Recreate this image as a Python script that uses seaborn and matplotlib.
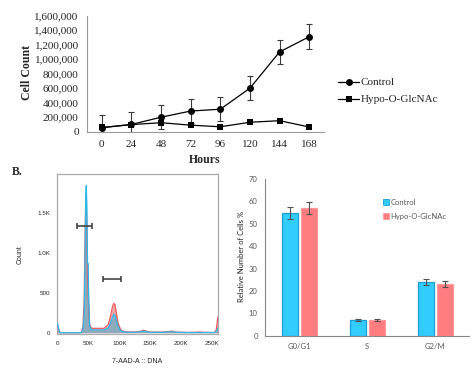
import numpy as np
import pandas as pd
import matplotlib
matplotlib.use("Agg")
import matplotlib.pyplot as plt
from matplotlib.lines import Line2D
from matplotlib.ticker import FixedLocator, MultipleLocator, FuncFormatter
import seaborn as sns

# ---------------- data ----------------
hours = ["0", "24", "48", "72", "96", "120", "144", "168"]
control_count = [55000, 100000, 200000, 285000, 310000, 600000, 1100000, 1310000]
control_err = [170000, 165000, 165000, 162000, 165000, 165000, 167000, 170000]
hypo_count = [58000, 98000, 124000, 90000, 68000, 130000, 152000, 65000]

hist_x = [0, 2, 4, 38, 41, 43, 44.5, 45.5, 46.5, 47.5, 48.5, 49.5, 50.5, 52,
          55, 65, 75, 82, 86, 89, 91, 93, 95, 98, 102, 108, 125, 134, 139, 144,
          150, 170, 180, 186, 192, 210, 225, 230, 236, 254, 257, 259, 260]
hist_control = [110, 40, 0, 0, 30, 200, 900, 1700, 1850, 1500, 870, 870, 400, 80,
                35, 35, 35, 60, 130, 200, 230, 220, 160, 80, 25, 8, 5, 12, 20, 12,
                5, 5, 10, 12, 5, 2, 2, 3, 2, 2, 10, 40, 60]
hist_hypo = [90, 30, 0, 0, 60, 400, 1200, 1630, 1500, 1100, 700, 500, 250, 100,
             55, 55, 55, 100, 220, 330, 370, 350, 260, 120, 40, 12, 8, 18, 30, 20,
             8, 8, 15, 20, 8, 4, 6, 10, 5, 3, 30, 150, 200]
gate_start = [31, 74]
gate_end = [55.5, 103]
gate_y = [1340, 680]

phases = ["G0/G1", "S", "G2/M"]
bar_control = [55, 7, 24]
bar_control_err = [2.7, 0.4, 1.3]
bar_hypo = [57, 7, 23]
bar_hypo_err = [2.8, 0.4, 1.3]
groups = ["Control", "Hypo-O-GlcNAc"]

# ---------------- style ----------------
sns.set_style("white")
plt.rcParams["font.family"] = ["Liberation Serif", "DejaVu Serif"]

W, H = 472, 368
fig = plt.figure(figsize=(W / 100, H / 100), dpi=100)

def px_axes(l, t, r, b):
    return fig.add_axes([l / W, (H - b) / H, (r - l) / W, (b - t) / H])

# ================= top line chart =================
ax1 = px_axes(87, 15.7, 324, 131.7)
xi = list(range(len(hours)))
df_line = pd.DataFrame({
    "x": xi * 2,
    "y": control_count + hypo_count,
    "g": ["Control"] * len(xi) + ["Hypo-O-GlcNAc"] * len(xi),
})
ax1.errorbar(xi, control_count, yerr=control_err, fmt="none", ecolor="#3a3a3a",
             elinewidth=0.8, capsize=2.2, capthick=0.8, zorder=2)
sns.lineplot(data=df_line, x="x", y="y", hue="g", style="g",
             markers={"Control": "o", "Hypo-O-GlcNAc": "s"}, dashes=False,
             palette={"Control": "black", "Hypo-O-GlcNAc": "black"},
             markersize=5, markeredgewidth=0, linewidth=0.9, ax=ax1, zorder=3,
             legend=False)
ax1.set_xlim(-0.5, 7.5)
ax1.set_ylim(0, 1600000)
ax1.xaxis.set_major_locator(FixedLocator(xi))
ax1.set_xticklabels(hours)
ax1.xaxis.set_minor_locator(FixedLocator([i - 0.5 for i in range(len(hours) + 1)]))
ax1.yaxis.set_major_locator(MultipleLocator(200000))
ax1.yaxis.set_major_formatter(FuncFormatter(lambda v, p: f"{int(v):,}"))
ax1.tick_params(axis="x", which="major", length=0, pad=6, labelsize=8)
ax1.tick_params(axis="x", which="minor", length=3, width=0.6, color="#888888", direction="out")
ax1.tick_params(axis="y", which="major", length=3, width=0.6, color="#888888", direction="out",
                labelsize=8, pad=3)
for s in ["top", "right"]:
    ax1.spines[s].set_visible(False)
for s in ["left", "bottom"]:
    ax1.spines[s].set_color("#999999")
    ax1.spines[s].set_linewidth(0.8)
ax1.set_xlabel("")
ax1.set_ylabel("")
fig.text(27 / W, 1 - 73 / H, "Cell Count", rotation=90, ha="center", va="center",
         fontsize=8.5, fontweight="bold")
fig.text(205 / W, 1 - 160 / H, "Hours", ha="center", va="center", fontsize=8.5,
         fontweight="bold")

handles = [Line2D([], [], color="black", lw=0.9, marker="o", markersize=5, markeredgewidth=0),
           Line2D([], [], color="black", lw=0.9, marker="s", markersize=5, markeredgewidth=0)]
fig.legend(handles, groups, loc="center left", bbox_to_anchor=(338 / W, 1 - 91 / H),
           frameon=False, fontsize=8, handlelength=1.9, handletextpad=0.15,
           labelspacing=0.65, borderaxespad=0, borderpad=0)

fig.text(12 / W, 1 - 172 / H, "B.", ha="left", va="center", fontsize=8.5, fontweight="bold")

# ================= histogram =================
sans = ["Liberation Sans", "DejaVu Sans"]
ax2 = px_axes(57, 174.3, 218, 334)
ax2.fill_between(hist_x, 0, hist_hypo, color="#f3a3a6", lw=0, zorder=1)
ax2.fill_between(hist_x, 0, hist_control, color="#8eabbd", lw=0, zorder=2)
sns.lineplot(x=hist_x, y=hist_hypo, color="#ef5b60", lw=0.9, ax=ax2, zorder=3)
sns.lineplot(x=hist_x, y=hist_control, color="#2bb9ea", lw=0.9, ax=ax2, zorder=4)
ax2.errorbar([(a + b) / 2 for a, b in zip(gate_start, gate_end)], gate_y,
             xerr=[(b - a) / 2 for a, b in zip(gate_start, gate_end)], fmt="none",
             ecolor="#444444", elinewidth=1.2, capsize=2.5, capthick=1.2, zorder=5)
ax2.set_xlim(-1, 260)
ax2.set_ylim(-16, 1990)
ax2.xaxis.set_major_locator(FixedLocator([0, 50, 100, 150, 200, 250]))
ax2.set_xticklabels(["0", "50K", "100K", "150K", "200K", "250K"], family=sans)
ax2.xaxis.set_minor_locator(MultipleLocator(10))
ax2.yaxis.set_major_locator(FixedLocator([0, 500, 1000, 1500]))
ax2.set_yticklabels(["0", "500", "1.0K", "1.5K"], family=sans)
ax2.yaxis.set_minor_locator(MultipleLocator(100))
ax2.tick_params(axis="both", which="major", length=3, width=0.6, color="#333333",
                direction="out", labelsize=4.5, pad=2)
ax2.tick_params(axis="both", which="minor", length=1.5, width=0.5, color="#555555",
                direction="out")
for s in ax2.spines.values():
    s.set_color("#aaaaaa")
    s.set_linewidth(0.9)
ax2.set_xlabel("")
ax2.set_ylabel("")
fig.text(20 / W, 1 - 255 / H, "Count", rotation=90, ha="center", va="center",
         fontsize=5, family=sans)
fig.text(137 / W, 1 - 361.5 / H, "7-AAD-A :: DNA", ha="center", va="center",
         fontsize=5, family=sans)

# ================= bar chart =================
lato = ["Lato", "DejaVu Sans"]
ax3 = px_axes(265.3, 179, 469, 335.7)
df_bar = pd.DataFrame({
    "phase": phases * 2,
    "value": bar_control + bar_hypo,
    "group": ["Control"] * 3 + ["Hypo-O-GlcNAc"] * 3,
})
sns.barplot(data=df_bar, x="phase", y="value", hue="group", order=phases,
            hue_order=groups, palette={"Control": "#33ccff", "Hypo-O-GlcNAc": "#ff7c80"},
            saturation=1, width=0.56, gap=0.16, errorbar=None, ax=ax3, legend=False,
            zorder=2)
edge_cols = {"Control": "#1e9fd3", "Hypo-O-GlcNAc": "#ff9a9d"}
patches = ax3.patches
for i, p in enumerate(patches):
    g = groups[i // 3]
    p.set_edgecolor(edge_cols[g])
    p.set_linewidth(0.9)
centers = [p.get_x() + p.get_width() / 2 for p in patches]
ax3.errorbar(centers[:3], bar_control, yerr=bar_control_err, fmt="none", ecolor="#505050",
             elinewidth=0.8, capsize=2, capthick=0.8, zorder=3)
ax3.errorbar(centers[3:], bar_hypo, yerr=bar_hypo_err, fmt="none", ecolor="#505050",
             elinewidth=0.8, capsize=2, capthick=0.8, zorder=3)
ax3.set_xlim(-0.5, 2.5)
ax3.set_ylim(0, 70)
ax3.yaxis.set_major_locator(MultipleLocator(10))
ax3.xaxis.set_minor_locator(FixedLocator([-0.5, 0.5, 1.5, 2.5]))
ax3.set_xticks(range(3))
ax3.set_xticklabels(phases, family=lato)
for lbl in ax3.get_yticklabels():
    lbl.set_family(lato)
ax3.tick_params(axis="x", which="major", length=0, pad=5, labelsize=5.5, labelcolor="#595959")
ax3.tick_params(axis="x", which="minor", length=2.5, width=0.6, color="#888888", direction="out")
ax3.tick_params(axis="y", which="major", length=2.5, width=0.6, color="#888888", direction="out",
                labelsize=5.5, labelcolor="#595959", pad=3)
for s in ["top", "right"]:
    ax3.spines[s].set_visible(False)
for s in ["left", "bottom"]:
    ax3.spines[s].set_color("#888888")
    ax3.spines[s].set_linewidth(0.8)
ax3.set_xlabel("")
ax3.set_ylabel("")
fig.text(241 / W, 1 - 257 / H, "Relative Number of Cells %", rotation=90, ha="center",
         va="center", fontsize=5.5, family=lato, color="#222222")

bh = [Line2D([], [], ls="none", marker="s", markersize=4, markerfacecolor="#33ccff",
             markeredgecolor="#1e9fd3", markeredgewidth=0.6),
      Line2D([], [], ls="none", marker="s", markersize=4, markerfacecolor="#ff7c80",
             markeredgecolor="#ff9a9d", markeredgewidth=0.6)]
leg3 = fig.legend(bh, groups, loc="upper left", bbox_to_anchor=(383 / W, 1 - 199 / H),
                  frameon=False, handlelength=0.8, handletextpad=0.15, labelspacing=0.9,
                  borderaxespad=0, borderpad=0, prop={"family": lato, "size": 5.5})
for t in leg3.get_texts():
    t.set_color("#595959")

fig.savefig("out.png", dpi=100)
